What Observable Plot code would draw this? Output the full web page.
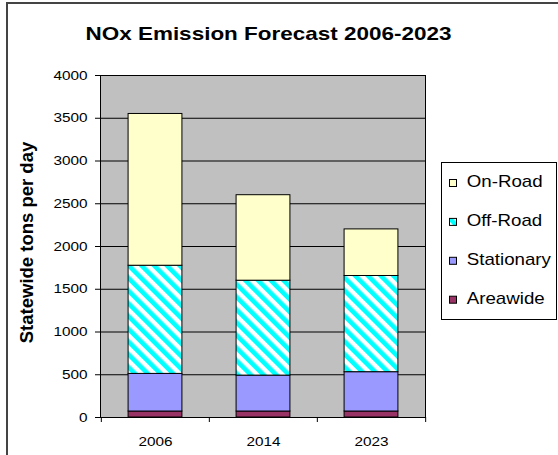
<!DOCTYPE html>
<html>
<head>
<meta charset="utf-8">
<script src="https://cdn.jsdelivr.net/npm/d3@7"></script>
<script src="https://cdn.jsdelivr.net/npm/@observablehq/plot@0.6"></script>
<style>
  body { margin: 0; background: #fff; }
  #wrap { position: relative; width: 558px; height: 455px; overflow: hidden; font-family: "Liberation Sans", Arial, sans-serif; }
  #border { position: absolute; left: 6px; top: 2px; width: 700px; height: 600px; border-top: 2px solid #444; border-left: 2px solid #444; }
  #chart { position: absolute; left: 0; top: 0; }
  #legend { position: absolute; left: 441px; top: 162px; }
</style>
</head>
<body>
<div id="wrap">
  <div id="border"></div>
  <div id="chart"></div>
  <div id="legend"></div>
</div>
<script>
// ---- data ----
const titleText = "NOx Emission Forecast 2006-2023";
const yLabel = "Statewide tons per day";
const years = ["2006", "2014", "2023"];
const seriesNames = ["Areawide", "Stationary", "Off-Road", "On-Road"]; // bottom to top
const areawide = [70, 70, 70];
const stationary = [440, 420, 460];
const offRoad = [1265, 1110, 1125];
const onRoad = [1775, 1000, 545];
const seriesFills = ["#993366", "#9999FF", "url(#offroad-stripes)", "#FFFFCC"];
const yTicks = [0, 500, 1000, 1500, 2000, 2500, 3000, 3500, 4000];

const seriesValues = [areawide, stationary, offRoad, onRoad];
const table = seriesNames.flatMap((s, i) =>
  years.map((y, j) => ({year: y, series: s, value: seriesValues[i][j]})));

// ---- layout ----
const W = 558, H = 455, mL = 100, mR = 133, mT = 75, mB = 38;
const bw = (W - mL - mR) / years.length;
const font = "'Liberation Sans', Arial, sans-serif";

const plot = Plot.plot({
  width: W, height: H,
  marginLeft: mL, marginRight: mR, marginTop: mT, marginBottom: mB,
  style: {fontFamily: font, fontSize: "13px", color: "#000", background: "transparent", overflow: "visible"},
  x: {domain: years, padding: 0, label: null},
  y: {domain: [0, 4000], label: null},
  color: {domain: seriesNames, range: seriesFills},
  marks: [
    Plot.frame({fill: "#C0C0C0"}),
    Plot.gridY(yTicks, {stroke: "#000", strokeOpacity: 1}),
    Plot.barY(table, Plot.stackY({x: "year", y: "value", fill: "series", stroke: "#000", strokeWidth: 1, insetLeft: bw / 4, insetRight: bw / 4})),
    Plot.frame({stroke: "#000"}),
    Plot.axisY(yTicks, {tickSize: 5, tickPadding: 8, tickFormat: d => String(d), label: null}),
    Plot.axisX({tickSize: 0, tickPadding: 19, label: null}),
    Plot.axisX({tickSize: 5, tickFormat: () => "", dx: -bw / 2, label: null}),
    Plot.axisX(["2023"], {tickSize: 5, tickFormat: () => "", dx: bw / 2, label: null})
  ]
});

const svg = d3.select(plot);
// stripe pattern for Off-Road
const pat = svg.insert("defs", ":first-child").append("pattern")
  .attr("id", "offroad-stripes")
  .attr("patternUnits", "userSpaceOnUse")
  .attr("width", 9).attr("height", 9)
  .attr("patternTransform", "rotate(-45)");
pat.append("rect").attr("width", 9).attr("height", 9).attr("fill", "#fff");
pat.append("rect").attr("width", 4.6).attr("height", 9).attr("fill", "#00FFFF");

// horizontal stretch of tick labels to match reference
function stretch(sel, sx) {
  sel.each(function() {
    const t = this.getAttribute("transform");
    if (t) {
      this.setAttribute("transform", t + ` scale(${sx},1)`);
    } else {
      const x = +this.getAttribute("x") || 0, y = +this.getAttribute("y") || 0;
      this.removeAttribute("x"); this.removeAttribute("y");
      this.setAttribute("transform", `translate(${x},${y}) scale(${sx},1)`);
    }
  });
}
stretch(svg.selectAll('g[aria-label="y-axis tick label"] text'), 1.18);
stretch(svg.selectAll('g[aria-label="x-axis tick label"] text'), 1.18);

// title
svg.append("text")
  .attr("transform", "translate(268.5,40) scale(1.21,1)")
  .attr("text-anchor", "middle")
  .style("font", `bold 18.6px ${font}`)
  .attr("fill", "#000")
  .text(titleText);

// y label
svg.append("text")
  .attr("transform", "translate(33.3,242.5) rotate(-90)")
  .attr("text-anchor", "middle")
  .style("font", `bold 18.5px ${font}`)
  .attr("fill", "#000")
  .text(yLabel);

document.getElementById("chart").appendChild(plot);

// legend
const lg = d3.select("#legend").append("svg").attr("width", 117).attr("height", 160);
lg.append("rect").attr("x", 0.5).attr("y", 0.5).attr("width", 115).attr("height", 157)
  .attr("fill", "#fff").attr("stroke", "#000");
const legendOrder = seriesNames.map((s, i) => ({s, f: seriesFills[i]})).reverse();
legendOrder.forEach((d, i) => {
  const base = 25 + 38.9 * i;
  lg.append("rect").attr("x", 8.5).attr("y", base - 7.5).attr("width", 7).attr("height", 7)
    .attr("fill", d.f).attr("stroke", "#000").attr("stroke-width", 1);
  lg.append("text")
    .attr("transform", `translate(25.7,${base}) scale(1.17,1)`)
    .style("font", `16px ${font}`)
    .attr("fill", "#000")
    .text(d.s);
});
</script>
</body>
</html>
